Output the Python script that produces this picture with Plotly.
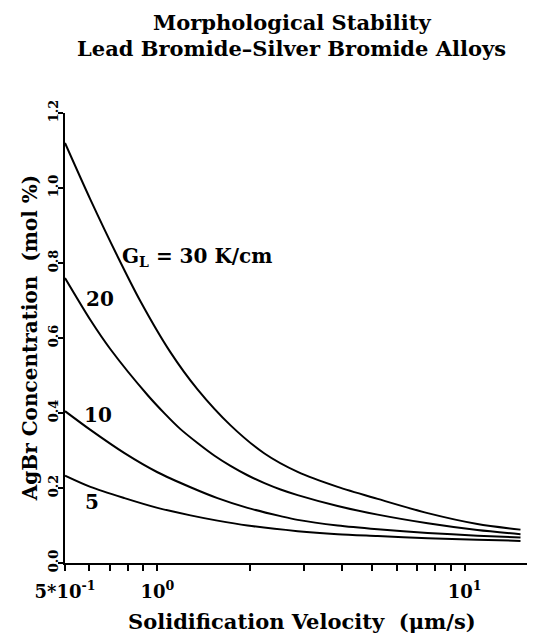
import plotly.graph_objects as go

# Data (x: solidification velocity in um/s, y: AgBr concentration in mol %)
x_g30 = [0.5, 0.605, 0.741, 0.88, 1.10, 1.35, 1.73, 2.23, 2.86, 3.86, 5.21, 7.58, 11.0, 15.2]
y_g30 = [1.12, 0.969, 0.818, 0.698, 0.563, 0.463, 0.367, 0.292, 0.243, 0.203, 0.171, 0.133, 0.104, 0.089]

x_g20 = [0.5, 0.605, 0.703, 0.928, 1.054, 1.188, 1.35, 1.534, 1.729, 1.964, 2.23, 2.516,
         2.86, 3.86, 5.21, 7.58, 11.0, 15.2]
y_g20 = [0.76, 0.648, 0.570, 0.448, 0.399, 0.357, 0.320, 0.286, 0.259, 0.234, 0.213, 0.196,
         0.181, 0.152, 0.129, 0.106, 0.088, 0.077]

x_g10 = [0.5, 0.605, 0.781, 1.0, 1.281, 1.568, 1.964, 2.516, 2.86, 3.86, 5.21, 7.58, 11.0, 15.2]
y_g10 = [0.405, 0.355, 0.293, 0.242, 0.202, 0.173, 0.147, 0.125, 0.115, 0.10, 0.09, 0.08, 0.073, 0.068]

x_g5 = [0.5, 0.605, 0.781, 1.0, 1.281, 1.568, 1.964, 2.86, 3.86, 5.21, 7.58, 11.0, 15.2]
y_g5 = [0.233, 0.203, 0.173, 0.147, 0.127, 0.113, 0.10, 0.085, 0.077, 0.072, 0.066, 0.062, 0.059]

series_labels = ["G<sub>L</sub> = 30 K/cm", "20", "10", "5"]

x_tickvals = [0.5, 0.6, 0.7, 0.8, 0.9, 1, 2, 3, 4, 5, 6, 7, 8, 9, 10, 16.2]
x_ticktext = ["5*10<sup>-1</sup>", "", "", "", "", "10<sup>0</sup>", "", "", "", "", "", "", "", "", "10<sup>1</sup>", ""]
y_tickvals = [0.0, 0.2, 0.4, 0.6, 0.8, 1.0, 1.2]
y_ticktext = ["0.0", "0.2", "0.4", "0.6", "0.8", "1.0", "1.2"]

title_lines = ["Morphological Stability", "Lead Bromide\u2013Silver Bromide Alloys"]
x_title = "Solidification Velocity\u00a0\u00a0(\u03bcm/s)"
y_title = "AgBr Concentration\u00a0\u00a0(mol %)"

FONT = "DejaVu Serif"
LOG_LO, LOG_HI = -0.30103, 1.2095

fig = go.Figure()
for xs, ys in [(x_g30, y_g30), (x_g20, y_g20), (x_g10, y_g10), (x_g5, y_g5)]:
    fig.add_trace(go.Scatter(x=xs, y=ys, mode="lines",
                             line=dict(color="black", width=2, shape="spline", smoothing=0.8),
                             showlegend=False, hoverinfo="skip"))

# curve labels (log10 x, y)
label_pos = [(-0.122, 0.816, "left"), (-0.186, 0.704, "center"),
             (-0.192, 0.395, "center"), (-0.212, 0.163, "center")]
for (lx, ly, anc), txt in zip(label_pos, series_labels):
    fig.add_annotation(x=lx, y=ly, xref="x", yref="y", text="<b>" + txt + "</b>",
                       showarrow=False, xanchor=anc, yanchor="middle",
                       font=dict(family=FONT, size=20, color="black"))

# title lines
for ty, txt in zip([1.2022, 1.1444], title_lines):
    fig.add_annotation(x=0.489, y=ty, xref="paper", yref="paper", text="<b>" + txt + "</b>",
                       showarrow=False, xanchor="center", yanchor="middle", borderpad=0,
                       font=dict(family=FONT, size=21, color="black"))

# axis titles
fig.add_annotation(x=0.511, y=-0.129, xref="paper", yref="paper", text="<b>" + x_title + "</b>",
                   showarrow=False, xanchor="center", yanchor="middle",
                   font=dict(family=FONT, size=21, color="black"))
fig.add_annotation(x=-0.075, y=0.5, xref="paper", yref="paper", text="<b>" + y_title + "</b>",
                   showarrow=False, xanchor="center", yanchor="middle", textangle=-90,
                   font=dict(family=FONT, size=20, color="black"))

fig.update_layout(
    width=527, height=627,
    margin=dict(l=57, r=6, t=105, b=72),
    paper_bgcolor="white", plot_bgcolor="white",
    font=dict(family=FONT, color="black"),
)
fig.update_xaxes(type="log", range=[LOG_LO, LOG_HI],
                 tickvals=x_tickvals, ticktext=x_ticktext, ticks="outside", ticklen=6, tickwidth=1.5,
                 tickcolor="black", showline=True, linecolor="black", linewidth=2,
                 showgrid=False, zeroline=False, ticklabelstandoff=5,
                 tickfont=dict(family=FONT, size=18, color="black", weight="bold"))
fig.update_yaxes(range=[0, 1.2], tickvals=y_tickvals, ticktext=y_ticktext, tickangle=-90,
                 ticks="outside", ticklen=5, tickwidth=1.5, tickcolor="black",
                 showline=True, linecolor="black", linewidth=2, showgrid=False, zeroline=False,
                 ticklabelstandoff=-5,
                 tickfont=dict(family=FONT, size=13, color="black", weight="bold"))

fig.write_html("out.html")
